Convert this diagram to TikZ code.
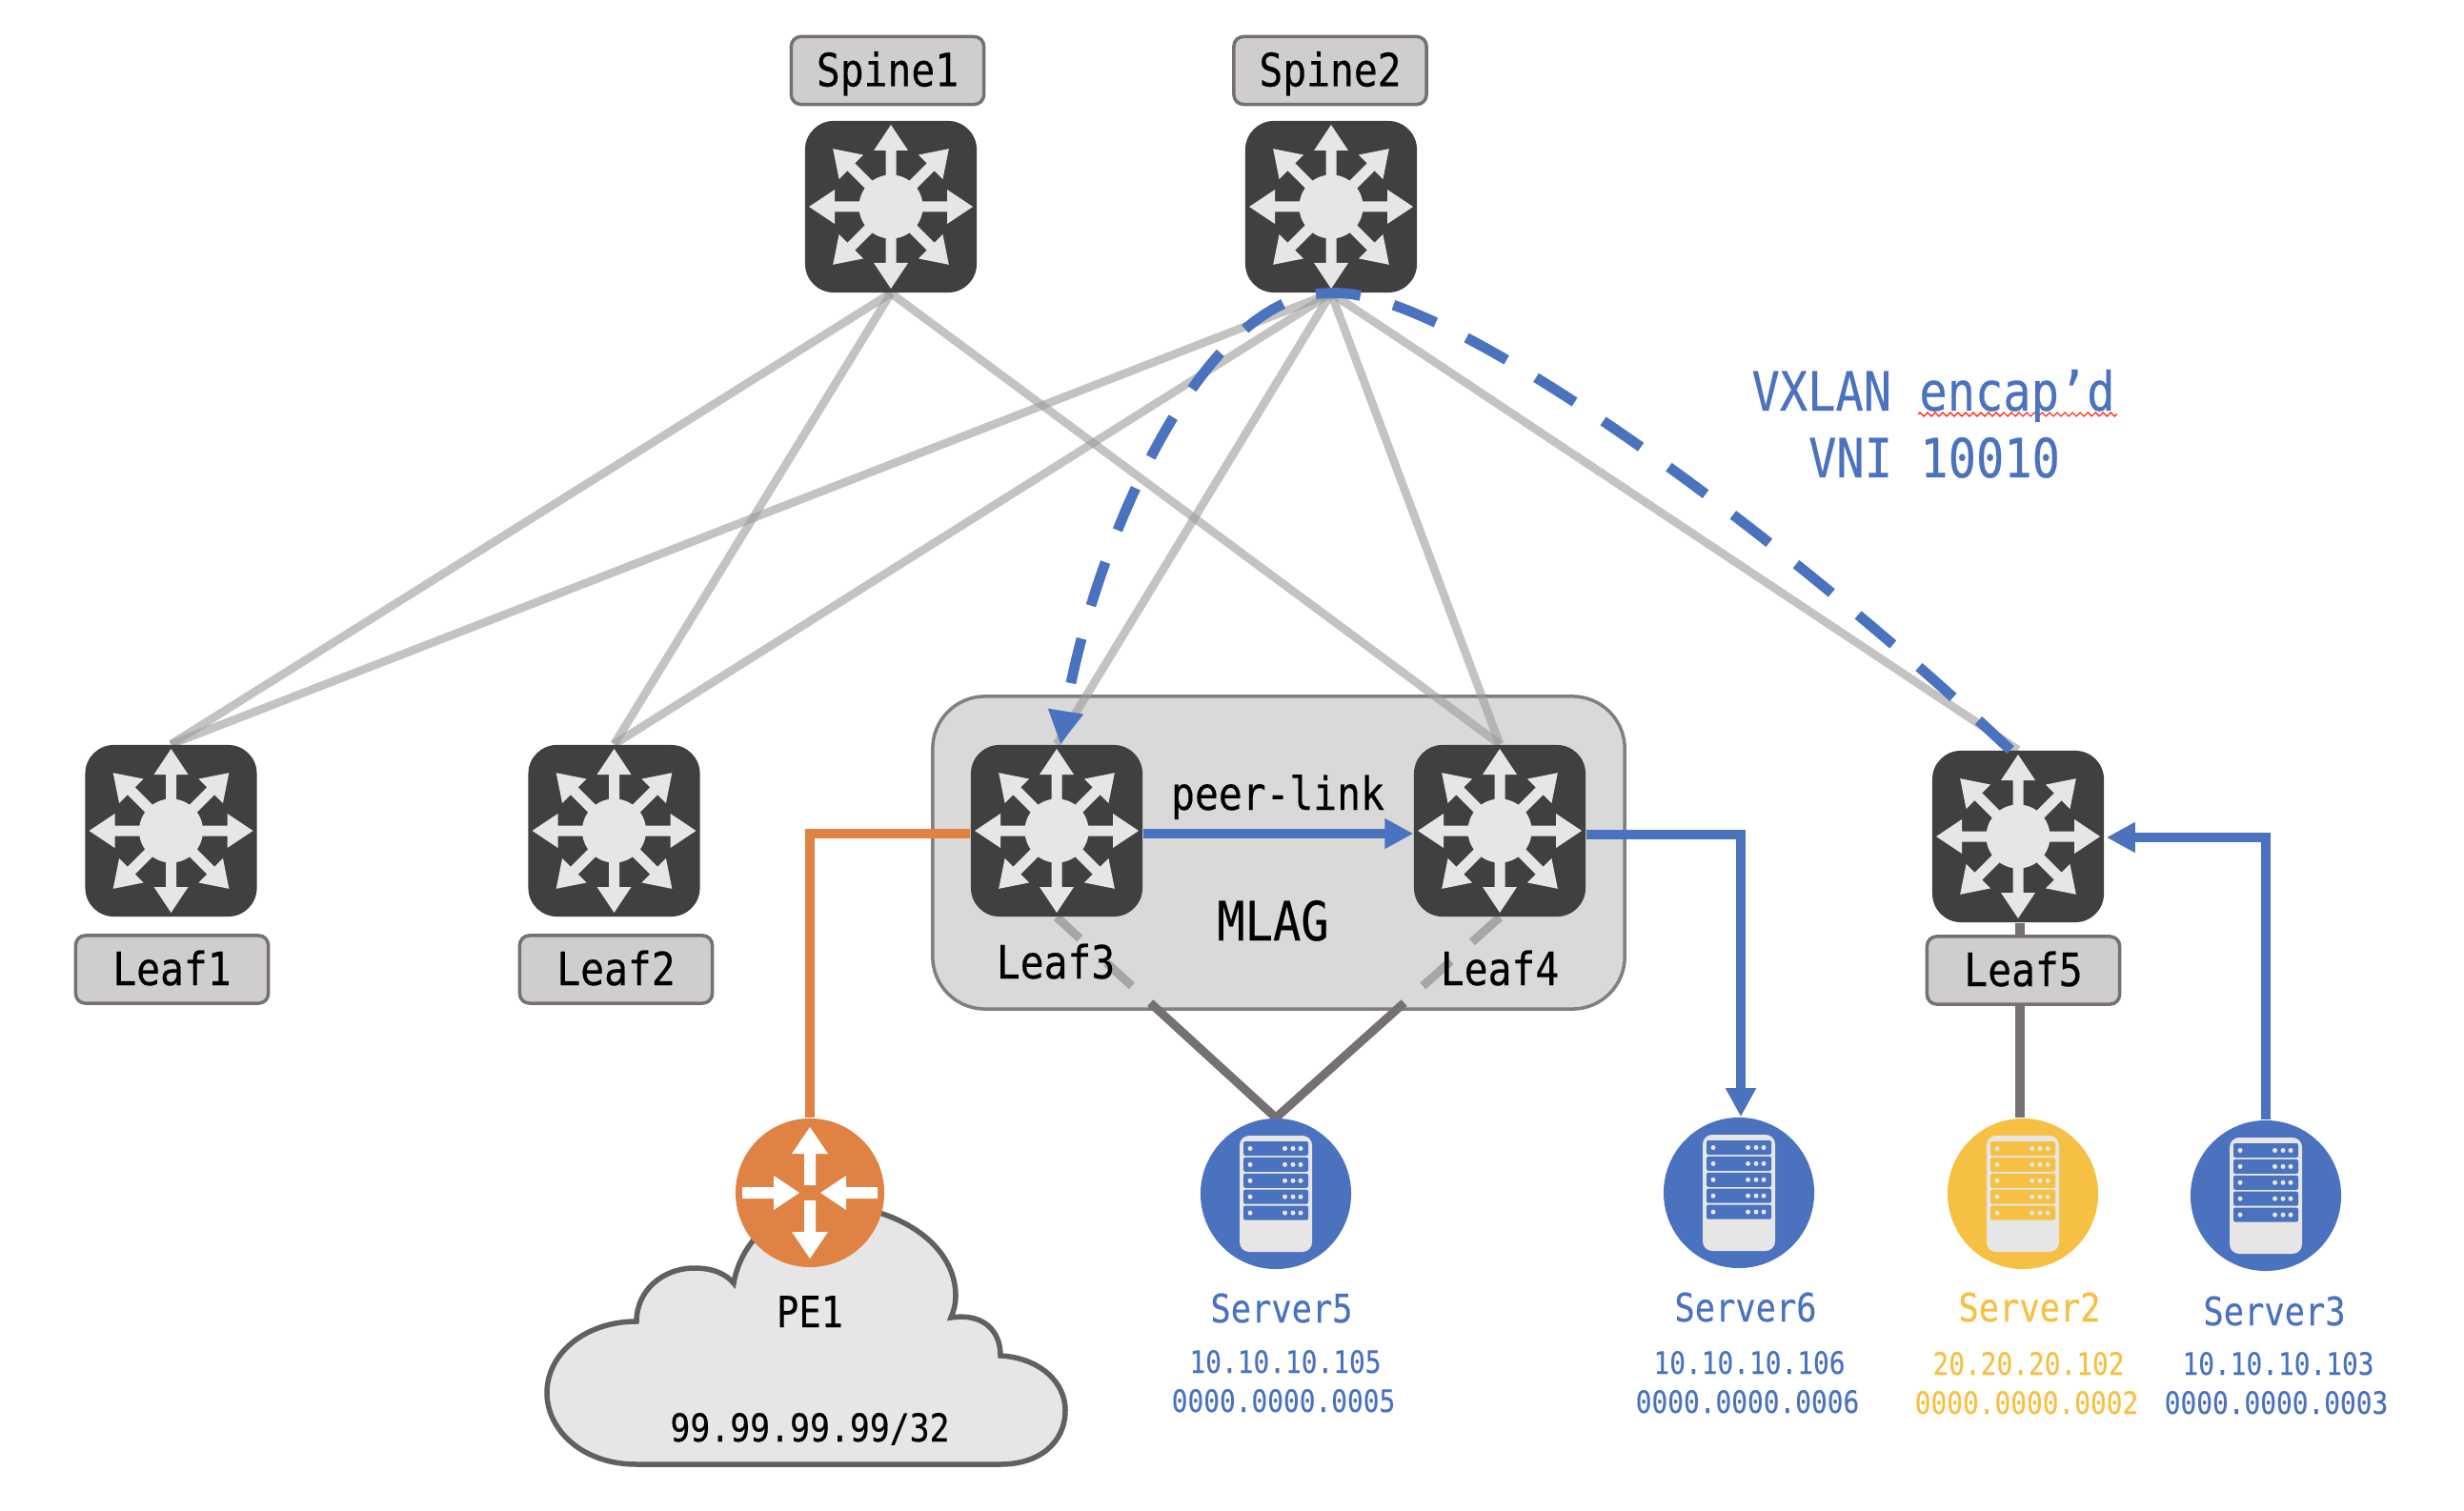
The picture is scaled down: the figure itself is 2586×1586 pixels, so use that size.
\documentclass[tikz,border=0pt]{standalone}
\usepackage{fontspec}
\usetikzlibrary{
  arrows.meta,
  calc,
  decorations.pathmorphing
}
\newfontfamily\monofam[FakeStretch=0.86,FakeBold=0.35]{DejaVu Sans Mono}
\newcommand{\labelfont}{\monofam\fontsize{13.66}{16}\selectfont}
\newcommand{\mlagfont}{\monofam\fontsize{16.1}{19}\selectfont}
\newcommand{\peonefont}{\monofam\fontsize{12.8}{15}\selectfont}
\newcommand{\serverfont}{\monofam\fontsize{11.7}{14}\selectfont}
\newcommand{\prefixfont}{\monofam\fontsize{11.5}{14}\selectfont}
\newcommand{\addrfont}{\monofam\fontsize{9.2}{11}\selectfont}
\definecolor{vxblue}{HTML}{4A72BF}
\definecolor{peorange}{HTML}{DF8244}
\definecolor{srvgold}{HTML}{F6C043}
\definecolor{swdark}{HTML}{404040}
\definecolor{iconlight}{HTML}{E7E6E6}
\definecolor{tagfill}{HTML}{CFCDCD}
\definecolor{tagline}{HTML}{767171}
\definecolor{mlagfill}{HTML}{D9D9D9}
\definecolor{mlagline}{HTML}{7F7F7F}
\definecolor{cloudline}{HTML}{606060}
\definecolor{linkgray}{HTML}{9E9A9A}
\pgfdeclarelayer{back}
\pgfdeclarelayer{links}
\pgfsetlayers{back,links,main}
\newcommand{\switchicon}[1]{%
  \begin{scope}[shift={(#1.center)}]
    \fill[iconlight] (0,0) circle (.335cm);
    \foreach \a in {0,45,...,315}
      \fill[iconlight,rotate=\a] (20,-5.5) -- (59,-5.5) -- (59,-18) -- (86,0)
        -- (59,18) -- (59,5.5) -- (20,5.5) -- cycle;
  \end{scope}}
\newcommand{\routericon}[1]{%
  \begin{scope}[shift={(#1.center)}]
    \foreach \a in {-90,90}
      \fill[white,rotate=\a] (8,-6) -- (41,-6) -- (41,-19) -- (69,0)
        -- (41,19) -- (41,6) -- (8,6) -- cycle;
    \foreach \a in {0,180}
      \fill[white,rotate=\a] (-71,-6) -- (-38,-6) -- (-38,-18) -- (-11,0)
        -- (-38,18) -- (-38,6) -- (-71,6) -- cycle;
  \end{scope}}
\newcommand{\servericon}[2]{%
  \begin{scope}[shift={(#1.center)}]
    \fill[iconlight,rounded corners=.1cm] (-38,-61) rectangle (38,61);
    \foreach \k in {0,...,4} {
      \fill[#2,rounded corners=.02cm] (-34,-55+16.9*\k) rectangle (34,-40+16.9*\k);
      \foreach \d in {-27,9.5,18,26}
        \fill[iconlight] (\d,-47.5+16.9*\k) circle (.025cm);
    }
  \end{scope}}

\begin{document}
\begin{tikzpicture}[
    x=0.01cm,
    y=-0.01cm,
    switchbox/.style={
        rectangle,
        rounded corners=.3cm,
        fill=swdark,
        minimum size=1.80cm,
        inner sep=0pt
    },
    tagbox/.style={
        draw=tagline,
        fill=tagfill,
        line width=.035cm,
        rectangle,
        rounded corners=.1cm,
        font=\labelfont,
        minimum width=2.02cm,
        minimum height=.71cm,
        text height=.33cm,
        text depth=0cm,
        inner sep=0pt
    },
    serverdot/.style={circle, fill=#1, minimum size=1.58cm, inner sep=0pt},
    freetext/.style={anchor=base, inner sep=0pt, align=center},
    graylink/.style={draw=linkgray, draw opacity=.6, line width=.087cm},
    darklink/.style={draw=tagline, line width=.09cm},
    fadelink/.style={draw=black!35, line width=.09cm},
    bluelink/.style={draw=vxblue, line width=.1cm, -{Triangle[length=3mm,width=3mm,fill=vxblue]}},
    encaplink/.style={draw=vxblue, line width=.108cm, dash pattern=on .48cm off .36cm}
]
\useasboundingbox (0,0) rectangle (2586,1586);

% ----------------------------------------------------------
% NODES
% ----------------------------------------------------------

\node[switchbox] (spineone) at (935,217) {};
\node[switchbox] (spinetwo) at (1397,217) {};
\node[switchbox] (leafone) at (179.5,872) {};
\node[switchbox] (leaftwo) at (644.5,872) {};
\node[switchbox] (leafthree) at (1109,872) {};
\node[switchbox] (leaffour) at (1574,872) {};
\node[switchbox] (leaffive) at (2118,878) {};

\node[tagbox] (spineonetag) at (931.5,74) {Spine1};
\node[tagbox] (spinetwotag) at (1396,74) {Spine2};
\node[tagbox] (leafonetag) at (180.5,1017.5) {Leaf1};
\node[tagbox] (leaftwotag) at (646.5,1017.5) {Leaf2};
\node[tagbox] (leaffivetag) at (2123.5,1018.5) {Leaf5};

\begin{pgfonlayer}{back}
\node[draw=mlagline, fill=mlagfill, line width=.035cm, rectangle, rounded corners=.55cm,
      minimum width=7.26cm, minimum height=3.28cm, inner sep=0pt] (mlag) at (1342,895) {};
\end{pgfonlayer}

\node[serverdot=vxblue] (serverfive) at (1339,1253) {};
\node[serverdot=vxblue] (serversix) at (1825,1252) {};
\node[serverdot=srvgold] (servertwo) at (2123,1253) {};
\node[serverdot=vxblue] (serverthree) at (2378,1255) {};

\draw[draw=cloudline, fill=iconlight, line width=.055cm]
  (668,1537) .. controls (610,1537) and (574,1500) .. (574,1462)
  .. controls (574,1420) and (615,1387) .. (668,1387)
  .. controls (668,1355) and (695,1331) .. (729,1331)
  .. controls (748,1331) and (762,1337) .. (770,1347)
  .. controls (778,1300) and (820,1262) .. (880,1265)
  .. controls (950,1270) and (1003,1310) .. (1003,1360)
  .. controls (1003,1368) and (1001,1376) .. (998,1383)
  .. controls (1030,1378) and (1050,1395) .. (1050,1423)
  .. controls (1090,1425) and (1118,1450) .. (1118,1480)
  .. controls (1118,1515) and (1090,1537) .. (1050,1537)
  -- cycle;
\node[circle, fill=peorange, minimum size=1.56cm, inner sep=0pt] (peone) at (850,1252) {};

\foreach \n in {spineone,spinetwo,leafone,leaftwo,leafthree,leaffour,leaffive} {
  \switchicon{\n}
}
\routericon{peone}
\servericon{serverfive}{vxblue}
\servericon{serversix}{vxblue}
\servericon{servertwo}{srvgold}
\servericon{serverthree}{vxblue}

% ----------------------------------------------------------
% LINKS
% ----------------------------------------------------------

\begin{pgfonlayer}{links}
\draw[graylink] (spineone.south) -- (leafone.north);
\draw[graylink] (spineone.south) -- (leaftwo.north);
\draw[graylink] (spineone.south) -- (leaffour.north);
\draw[graylink] (spinetwo.south) -- (leafone.north);
\draw[graylink] (spinetwo.south) -- (leaftwo.north);
\draw[graylink] (spinetwo.south) -- (leafthree.north);
\draw[graylink] (spinetwo.south) -- (leaffour.north);
\draw[graylink] (spinetwo.south) -- (leaffive.north);

\draw[darklink] (serverfive.north) -- ($(serverfive.north)!0.573!(leafthree.south)$);
\draw[darklink] (serverfive.north) -- ($(serverfive.north)!0.573!(leaffour.south)$);
\draw[fadelink, dash pattern=on .33cm off .38cm on .37cm off 1cm]
  (leafthree.south) -- ($(leafthree.south)!0.343!(serverfive.north)$);
\draw[fadelink, dash pattern=on .39cm off .30cm on .40cm off 1cm]
  (leaffour.south) -- ($(leaffour.south)!0.343!(serverfive.north)$);
\draw[draw=tagline, line width=.1cm] ([xshift=.015cm]leaffive.south) -- ([xshift=.015cm]leaffive.south |- servertwo.north);
\end{pgfonlayer}

\draw[draw=peorange, line width=.1cm] ([yshift=-.03cm]leafthree.west) -| (peone.north);
\draw[bluelink] ([yshift=-.03cm]leafthree.east) -- ([yshift=-.03cm]leaffour.west);
\draw[bluelink] ([yshift=-.04cm]leaffour.east) -| ([xshift=.02cm]serversix.north);
\draw[bluelink] (serverthree.north) |- ([xshift=.02cm,yshift=-.01cm]leaffive.east);

\draw[encaplink, dash phase=.32cm, -{Triangle[length=3.5mm,width=3.5mm,fill=vxblue]}]
  (spinetwo.south) .. controls (1260,305) and (1145,580) .. ([xshift=.04cm]leafthree.north);
\draw[encaplink, dash phase=.17cm]
  (spinetwo.south) .. controls (1520,300) and (1880,570) .. ([xshift=-.08cm]leaffive.north);

% ----------------------------------------------------------
% ANNOTATIONS
% ----------------------------------------------------------

\node[freetext, font=\labelfont] (peerlabel) at (1341,850) {peer-link};
\node[freetext, font=\mlagfont] (mlaglabel) at (1336,987) {MLAG};
\node[freetext, font=\labelfont] (leafthreelabel) at (1108,1027) {Leaf3};
\node[freetext, font=\labelfont] (leaffourlabel) at (1574,1034) {Leaf4};

\coordinate (squigstart) at (2013,435);
\coordinate (squigend) at (2222,435);
\draw[draw=red!75!orange, line width=.012cm, decorate,
      decoration={zigzag, segment length=.08cm, amplitude=.02cm}] (squigstart) -- (squigend);
\node[freetext, font=\mlagfont, text=vxblue] (vxlanlabel) at (2029,431) {VXLAN encap’d};
\node[freetext, font=\mlagfont, text=vxblue] (vnilabel) at (2030,501) {VNI 10010};

\node[freetext, font=\peonefont] (pelabel) at (850,1393) {PE1};
\node[freetext, font=\prefixfont] (peprefix) at (850,1513) {99.99.99.99/32};

\node[freetext, font=\serverfont, text=vxblue] (servfivename) at (1345,1388) {Server5};
\node[freetext, font=\addrfont, text=vxblue] (servfiveip) at (1349,1441) {10.10.10.105};
\node[freetext, font=\addrfont, text=vxblue] (servfivemac) at (1347,1482) {0000.0000.0005};

\node[freetext, font=\serverfont, text=vxblue] (servsixname) at (1832,1387) {Server6};
\node[freetext, font=\addrfont, text=vxblue] (servsixip) at (1836,1442) {10.10.10.106};
\node[freetext, font=\addrfont, text=vxblue] (servsixmac) at (1834,1483) {0000.0000.0006};

\node[freetext, font=\serverfont, text=srvgold] (servtwoname) at (2130,1387) {Server2};
\node[freetext, font=\addrfont, text=srvgold] (servtwoip) at (2129,1443) {20.20.20.102};
\node[freetext, font=\addrfont, text=srvgold] (servtwomac) at (2127,1484) {0000.0000.0002};

\node[freetext, font=\serverfont, text=vxblue] (servthreename) at (2387,1391) {Server3};
\node[freetext, font=\addrfont, text=vxblue] (servthreeip) at (2391,1443) {10.10.10.103};
\node[freetext, font=\addrfont, text=vxblue] (servthreemac) at (2389,1484) {0000.0000.0003};

\end{tikzpicture}
\end{document}
